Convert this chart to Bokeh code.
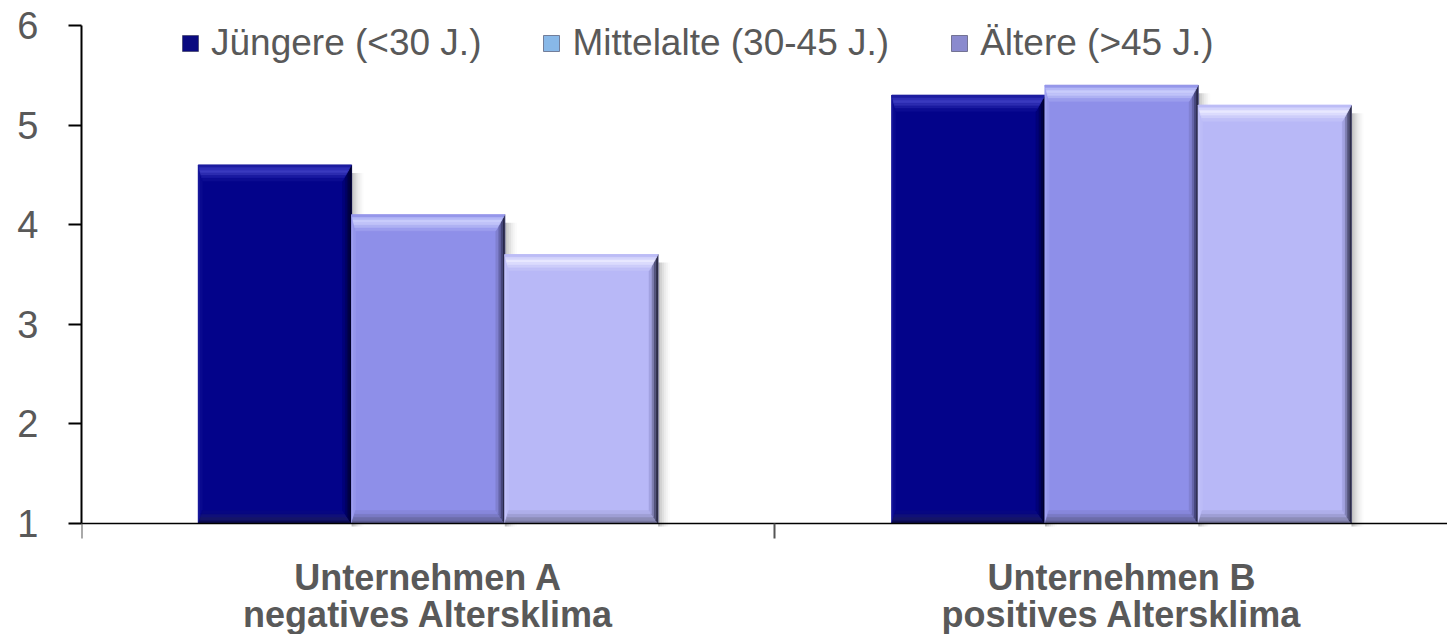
from bokeh.plotting import figure
from bokeh.models import FixedTicker, Range1d, Legend, LegendItem, ColumnDataSource
from bokeh.core.properties import value
from bokeh.embed import file_html
from bokeh.resources import INLINE

# ---- data -------------------------------------------------------------
categories = [("Unternehmen A", "negatives Altersklima"),
              ("Unternehmen B", "positives Altersklima")]
groups = ["Jüngere (<30 J.)", "Mittelalte (30-45 J.)", "Ältere (>45 J.)"]
values_young = [4.6, 5.3]
values_middle = [4.1, 5.4]
values_old = [3.7, 5.2]
y_ticks = [1, 2, 3, 4, 5, 6]

# ---- layout -----------------------------------------------------------
W, H = 1447, 634
LEFT, TOP = 81, 25
AXIS_PX = 498                 # pixel height of the value axis (1..6)
BELOW_PX = H - TOP - AXIS_PX  # room under the category axis
X_END = 1.97
Y_START, Y_END = 1, 6
frame_w = W - LEFT
dx = X_END / frame_w                  # data units per pixel (x)
dy = (Y_END - Y_START) / AXIS_PX      # data units per pixel (y)
Y_VIEW_START = Y_START - BELOW_PX * dy
Y_VIEW_END = Y_END + TOP * dy

BAR_W = 0.221
offsets = [-BAR_W, 0.0, BAR_W]

TEXT = "#595959"
FONT = "Liberation Sans"

# bevel palettes, outer edge -> inner
styles = [
    dict(base="#03038a",
         top=["#1c1ca0", "#2e2eb4", "#3a3abf", "#2c2cb0", "#1a1aa0", "#0c0c92"],
         right=["#00002a", "#000046", "#000062", "#020278"],
         bottom=["#0b0b50", "#141468", "#101078", "#070782"],
         left=["#16169a", "#0a0a8f"]),
    dict(base="#8e8fe9",
         top=["#9597ea", "#b4b7f6", "#c9ccfc", "#c0c3f9", "#aeb1f3", "#9c9eee"],
         right=["#2a2a4a", "#46467a", "#6666aa", "#8080d0"],
         bottom=["#5a5a90", "#6c6caa", "#7a7ac4", "#8787db"],
         left=["#a0a1f1", "#9697ec"]),
    dict(base="#b8b8f7",
         top=["#bcbcf6", "#d4d4fb", "#e8e8ff", "#dcdcfd", "#cdcdfa", "#c0c0f8"],
         right=["#2e2e48", "#54547a", "#7e7eb0", "#a2a2e0"],
         bottom=["#7878a0", "#8c8cb8", "#9e9ed4", "#aeaeea"],
         left=["#c4c4fa", "#bdbdf8"]),
]
legend_colors = ["#0a0a80", "#88b8e8", "#8a8ace"]

BT, BB, BR, BL = 16, 13, 9, 4   # bevel depths in pixels


def bevel(x0, x1, b, t, st):
    xs, ys, cs = [], [], []
    xs.append([x0, x1, x1, x0]); ys.append([b, b, t, t]); cs.append(st["base"])
    tl, tr = BL * dx, BR * dx
    tt, tb = BT * dy, BB * dy

    def add(side, cols):
        n = len(cols)
        for k, c in enumerate(cols):
            f0, f1 = k / n, (k + 1) / n
            if side == "top":
                px = [x0 + f0 * tl, x1 - f0 * tr, x1 - f1 * tr, x0 + f1 * tl]
                py = [t - f0 * tt, t - f0 * tt, t - f1 * tt, t - f1 * tt]
            elif side == "bottom":
                px = [x0 + f0 * tl, x1 - f0 * tr, x1 - f1 * tr, x0 + f1 * tl]
                py = [b + f0 * tb, b + f0 * tb, b + f1 * tb, b + f1 * tb]
            elif side == "right":
                px = [x1 - f0 * tr, x1 - f1 * tr, x1 - f1 * tr, x1 - f0 * tr]
                py = [t - f0 * tt, t - f1 * tt, b + f1 * tb, b + f0 * tb]
            else:
                px = [x0 + f0 * tl, x0 + f1 * tl, x0 + f1 * tl, x0 + f0 * tl]
                py = [t - f0 * tt, t - f1 * tt, b + f1 * tb, b + f0 * tb]
            xs.append(px); ys.append(py); cs.append(c)

    add("left", st["left"])
    add("bottom", st["bottom"])
    add("right", st["right"])
    add("top", st["top"])
    return xs, ys, cs


p = figure(width=W, height=H, output_backend="svg", toolbar_location=None,
           x_range=Range1d(0, X_END), y_range=Range1d(Y_VIEW_START, Y_VIEW_END),
           min_border_left=LEFT, min_border_top=0,
           min_border_bottom=0, min_border_right=0)
p.outline_line_color = None
p.xgrid.visible = False
p.ygrid.visible = False
p.background_fill_color = "white"

series = [values_young, values_middle, values_old]

# soft drop shadows to the right of each bar
sh_x, sh_y, sh_a = [], [], []
alphas = [0.30, 0.22, 0.15, 0.09, 0.05, 0.02]
for si, vals in enumerate(series):
    for ci, v in enumerate(vals):
        x1 = ci + 0.5 + offsets[si] + BAR_W / 2
        for k, a in enumerate(alphas):
            sh_x.append([x1 + k * 2 * dx, x1 + (k + 1) * 2 * dx,
                         x1 + (k + 1) * 2 * dx, x1 + k * 2 * dx])
            sh_y.append([Y_START - 3 * dy, Y_START - 3 * dy,
                         v - 8 * dy, v - 8 * dy])
            sh_a.append(a)
p.patches(xs="xs", ys="ys", fill_color="#303030", fill_alpha="a",
          line_color=None,
          source=ColumnDataSource(dict(xs=sh_x, ys=sh_y, a=sh_a)))

# bevelled bars
for si, vals in enumerate(series):
    for ci, v in enumerate(vals):
        c = ci + 0.5 + offsets[si]
        xs, ys, cs = bevel(c - BAR_W / 2, c + BAR_W / 2, Y_START, v, styles[si])
        p.patches(xs="xs", ys="ys", fill_color="c", line_color="c",
                  line_width=0.6,
                  source=ColumnDataSource(dict(xs=xs, ys=ys, c=cs)))

# legend entries (proxy renderers with a single undrawn NaN row)
nan = float("nan")
items = []
for g, col in zip(groups, legend_colors):
    r = p.quad(left=[nan], right=[nan], top=[nan], bottom=[nan],
               fill_color=col, line_color="#202040", line_width=0.5)
    items.append(LegendItem(label=g, renderers=[r]))
legend = Legend(items=items, orientation="horizontal",
                location=(99, 457 + BELOW_PX + 2),
                border_line_color=None, background_fill_alpha=0,
                padding=0, margin=0, spacing=60,
                glyph_width=20, glyph_height=20, label_standoff=11,
                label_text_font_size="37px", label_text_color=TEXT,
                label_text_font=FONT)
p.add_layout(legend)

# y axis, limited to the value range
ya = p.yaxis[0]
ya.ticker = FixedTicker(ticks=y_ticks)
ya.bounds = (Y_START, Y_END)
ya.major_tick_in = 0
ya.major_tick_out = 13
ya.minor_tick_line_color = None
ya.axis_line_width = 2
ya.axis_line_color = "black"
ya.major_tick_line_color = "black"
ya.major_tick_line_width = 2
ya.major_label_standoff = 30
ya.major_label_text_font_size = "38px"
ya.major_label_text_color = TEXT
ya.major_label_text_font = FONT

# category axis pinned at the value 1, with divider ticks between groups
xa = p.xaxis[0]
xa.fixed_location = Y_START
xa.ticker = FixedTicker(ticks=[], minor_ticks=[0, 1, 2])
xa.major_label_text_font_size = "0px"
xa.major_tick_in = 0
xa.major_tick_out = 0
xa.minor_tick_in = 0
xa.minor_tick_out = 15
xa.minor_tick_line_color = "#555555"
xa.minor_tick_line_width = 2
xa.axis_line_color = "black"
xa.axis_line_width = 1.5

# two-line category captions under the axis (line centres given in pixels)
cap_x, cap_y, cap_t = [], [], []
for ci, lines in enumerate(categories):
    for li, txt in enumerate(lines):
        cap_x.append(ci + 0.5)
        cap_y.append(Y_START - (54 + 37 * li) * dy)
        cap_t.append(txt)
p.text(x="x", y="y", text="t", source=ColumnDataSource(dict(x=cap_x, y=cap_y, t=cap_t)),
       text_align="center", text_baseline="middle", text_font=value(FONT),
       text_font_size="36px", text_font_style="bold", text_color=TEXT)

open("out.html", "w").write(file_html(p, INLINE))
